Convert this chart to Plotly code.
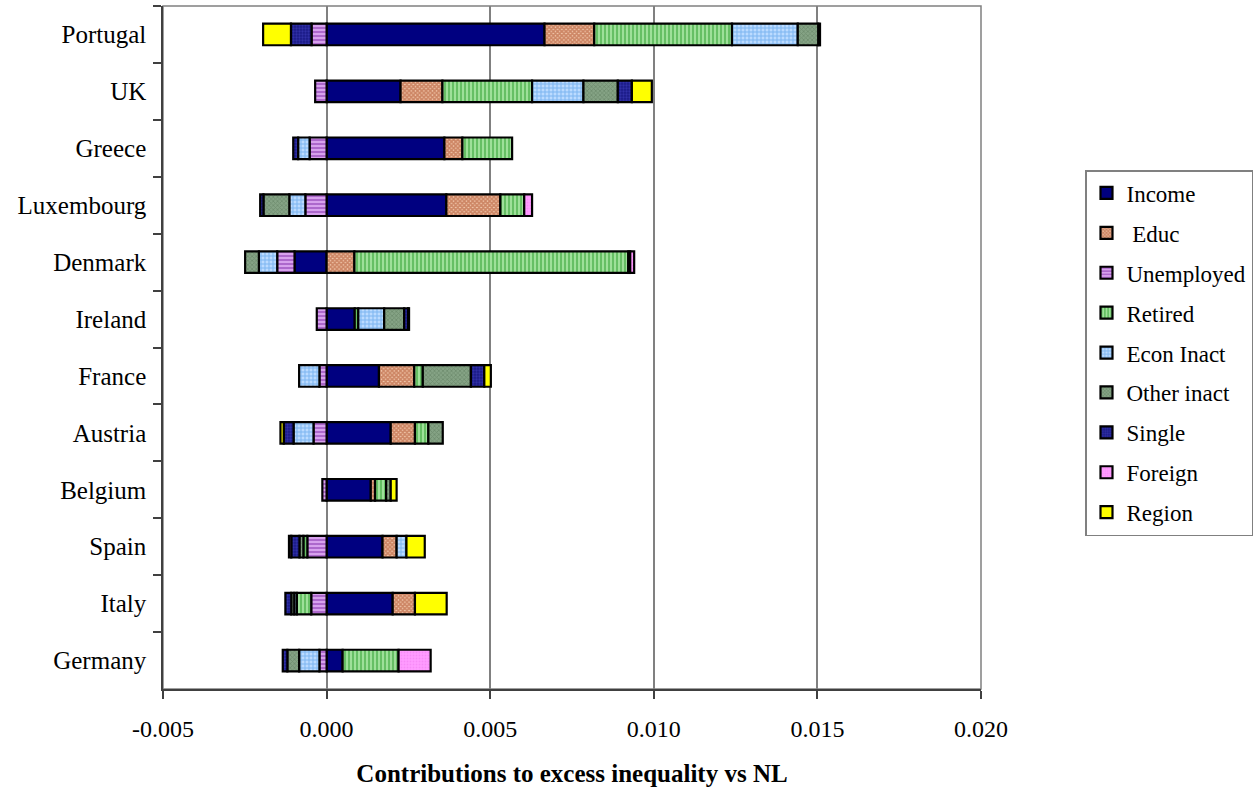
import plotly.graph_objects as go

# Countries, top to bottom
countries = ["Portugal", "UK", "Greece", "Luxembourg", "Denmark", "Ireland",
             "France", "Austria", "Belgium", "Spain", "Italy", "Germany"]

# Contribution of each factor to excess inequality relative to NL
income = [0.00666, 0.00226, 0.00360, 0.00366, -0.00098, 0.00086,
          0.00160, 0.00196, 0.00135, 0.00171, 0.00202, 0.00049]
educ = [0.00152, 0.00128, 0.00055, 0.00165, 0.00085, 0.0,
        0.00108, 0.00074, 0.00013, 0.00043, 0.00068, 0.0]
unemployed = [-0.00046, -0.00035, -0.00052, -0.00065, -0.00053, -0.00030,
              -0.00022, -0.00040, -0.00013, -0.00059, -0.00047, -0.00022]
retired = [0.00421, 0.00274, 0.00152, 0.00073, 0.00837, 0.00011,
           0.00026, 0.00041, 0.00034, -0.00012, -0.00044, 0.00171]
econ_inact = [0.00201, 0.00157, -0.00035, -0.00049, -0.00056, 0.00079,
              -0.00062, -0.00061, 0.0, 0.00030, -0.00008, -0.00062]
other_inact = [0.00063, 0.00105, 0.0, -0.00079, -0.00042, 0.00061,
               0.00147, 0.00044, 0.00014, -0.00012, -0.00009, -0.00036]
single = [-0.00063, 0.00043, -0.00015, -0.00010, 0.00006, 0.00012,
          0.00041, -0.00030, 0.0, -0.00025, -0.00018, -0.00014]
foreign = [0.00005, 0.0, 0.0, 0.00024, 0.00012, 0.00003,
           0.0, 0.0, 0.0, -0.00007, 0.0, 0.00098]
region = [-0.00085, 0.00061, 0.0, 0.0, 0.0, 0.0,
          0.00020, -0.00010, 0.00018, 0.00056, 0.00097, 0.0]

x_ticks = [-0.005, 0.0, 0.005, 0.010, 0.015, 0.020]

FONT = "Liberation Serif"

# name, values, fill colour, pattern shape, pattern colour, pattern size, solidity
series = [
    ("Income", income, "#000080", "", None, None, None),
    (" Educ", educ, "#F3CBB0", "x", "#A8421A", 3, 0.8),
    ("Unemployed", unemployed, "#DBA8F0", "-", "#7F28A8", 4, 0.55),
    ("Retired", retired, "#A3E49E", "|", "#2A9A2A", 4, 0.55),
    ("Econ Inact", econ_inact, "#BBDBFF", "+", "#3F90E2", 4, 0.45),
    ("Other inact", other_inact, "#85A385", "x", "#587458", 3, 0.45),
    ("Single", single, "#1A1A86", ".", "#4545C8", 3, 0.45),
    ("Foreign", foreign, "#FF9CFF", ".", "#F07AF0", 3, 0.3),
    ("Region", region, "#FFFF00", "", None, None, None),
]

fig = go.Figure()
for i, (name, vals, color, shape, fg, size, sol) in enumerate(series):
    xs = [v if v != 0 else None for v in vals]
    marker = dict(color=color, line=dict(color="#000000", width=2.2))
    if shape:
        marker["pattern"] = dict(shape=shape, fgcolor=fg, size=size,
                                 solidity=sol, fillmode="overlay")
    fig.add_trace(go.Bar(
        y=countries, x=xs, name=name, orientation="h", marker=marker,
        legendgroup=f"g{i}",
    ))

fig.update_layout(
    width=1255, height=793,
    barmode="relative",
    bargap=0.62,
    plot_bgcolor="#FFFFFF",
    paper_bgcolor="#FFFFFF",
    margin=dict(l=163, r=274, t=6, b=104),
    font=dict(family=FONT, size=24, color="#000000"),
    showlegend=True,
    legend=dict(
        xref="container", yref="container",
        x=1085 / 1255, y=1 - 170 / 793, xanchor="left", yanchor="top",
        bordercolor="#808080", borderwidth=1.5,
        font=dict(family=FONT, size=23, color="#000000"),
        traceorder="grouped", tracegroupgap=7,
        itemwidth=30,
    ),
    shapes=[dict(type="rect", xref="paper", yref="paper", x0=0, x1=1, y0=0, y1=1,
                 line=dict(color="#808080", width=1.5), layer="below")],
)

fig.update_xaxes(
    range=[-0.005, 0.020],
    tickvals=x_ticks,
    ticktext=[f"{v:.3f}" for v in x_ticks],
    showgrid=True, gridcolor="#808080", gridwidth=1.5,
    zeroline=False,
    showline=True, linecolor="#404040", linewidth=1.5,
    ticks="outside", ticklen=8, tickcolor="#404040", tickwidth=1.5,
    ticklabelstandoff=9,
    tickfont=dict(family=FONT, size=24),
    title=dict(text="<b>Contributions to excess inequality vs NL</b>",
               font=dict(family=FONT, size=25), standoff=24),
)

fig.update_yaxes(
    categoryorder="array", categoryarray=countries,
    autorange="reversed",
    showgrid=False,
    showline=True, linecolor="#404040", linewidth=1.5,
    ticks="outside", ticklen=8, tickcolor="#404040", tickwidth=1.5,
    tickson="boundaries",
    ticklabelstandoff=10,
    tickfont=dict(family=FONT, size=25),
)

fig.write_html("out.html")
